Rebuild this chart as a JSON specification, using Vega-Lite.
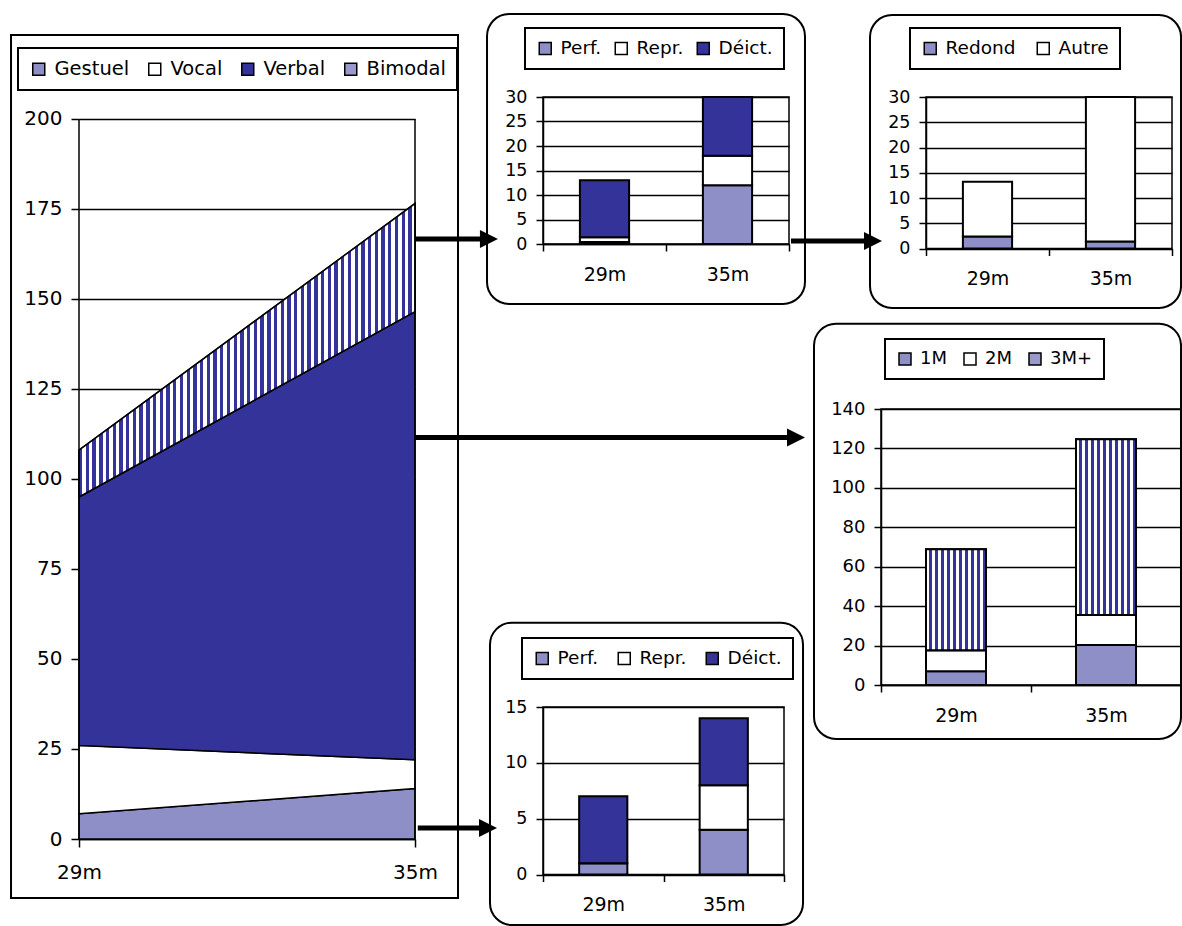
{
  "$schema": "https://vega.github.io/schema/vega-lite/v6.json",
  "background": "white",
  "padding": {"left": 10, "top": 12, "right": 0, "bottom": 0},
  "config": {
    "font": "DejaVu Sans",
    "view": {"stroke": "black", "strokeWidth": 1.5},
    "axis": {"labelFont": "DejaVu Sans", "labelColor": "black", "domainColor": "black", "domainWidth": 1.5, "tickColor": "black", "tickWidth": 1.5, "gridColor": "black", "gridWidth": 1.5, "gridOpacity": 1, "labelAngle": 0, "labelOverlap": false},
    "legend": {"labelFont": "DejaVu Sans", "labelColor": "black", "symbolType": "square", "symbolSize": 144, "symbolStrokeColor": "black", "symbolStrokeWidth": 1.5, "symbolOpacity": 1, "strokeColor": "black", "strokeWidth": 2, "fillColor": "white", "orient": "none", "direction": "horizontal", "labelOffset": 6}
  },
  "resolve": {"scale": {"fill": "independent"}, "legend": {"fill": "independent"}},
  "columns": 2,
  "align": "none",
  "spacing": -369,
  "concat": [
    {
      "resolve": {"scale": {"fill": "independent"}, "legend": {"fill": "independent"}},
      "columns": 2,
      "align": "none",
      "spacing": -693,
      "concat": [
        {
          "width": 336,
          "height": 742,
          "view": {"stroke": null},
          "data": {"values": [
            {"month": 29, "type": "Gestuel", "n": 7},
            {"month": 29, "type": "Vocal", "n": 19},
            {"month": 29, "type": "Verbal", "n": 69},
            {"month": 29, "type": "Bimodal", "n": 13},
            {"month": 35, "type": "Gestuel", "n": 14},
            {"month": 35, "type": "Vocal", "n": 8},
            {"month": 35, "type": "Verbal", "n": 124.5},
            {"month": 35, "type": "Bimodal", "n": 30}
          ]},
          "transform": [{"calculate": "indexof(['Gestuel', 'Vocal', 'Verbal', 'Bimodal'], datum.type)", "as": "k"}],
          "layer": [
            {
              "mark": {"type": "area", "stroke": "black", "strokeWidth": 1.5, "opacity": 1},
              "encoding": {
                "x": {"field": "month", "type": "quantitative", "scale": {"domain": [29, 35], "nice": false, "zero": false},
                      "axis": {"title": null, "values": [29, 35], "labelExpr": "datum.value + 'm'", "grid": false, "labelFlush": false, "labelFontSize": 20, "tickSize": 8, "labelPadding": 15}},
                "y": {"field": "n", "type": "quantitative", "stack": "zero", "scale": {"domain": [0, 206.111], "nice": false},
                      "axis": {"title": null, "values": [0, 25, 50, 75, 100, 125, 150, 175, 200], "grid": true, "domain": false, "labelFontSize": 20, "tickSize": 8, "labelPadding": 9}},
                "order": {"field": "k", "type": "quantitative"},
                "fill": {"field": "type", "type": "nominal", "sort": ["Gestuel", "Vocal", "Verbal", "Bimodal"],
                         "scale": {"domain": ["Gestuel", "Vocal", "Verbal", "Bimodal"], "range": ["#8f8fc8", "#ffffff", "#333399", "#9999cc"]},
                         "legend": {"title": null, "legendX": -61, "legendY": -49, "labelFontSize": 19.5, "columnPadding": 15, "padding": 11}}
              }
            },
            {
              "transform": [
                {"stack": "n", "groupby": ["month"], "sort": [{"field": "k", "order": "ascending"}], "as": ["y0", "y1"]},
                {"filter": "datum.type === 'Bimodal'"}
              ],
              "mark": {"type": "area", "stroke": "black", "strokeWidth": 1.5, "opacity": 1,
                       "fill": {"gradient": "linear", "x1": 0, "y1": 0, "x2": 1, "y2": 0, "stops": [
{"offset":0,"color":"#339"},
{"offset":0.01,"color":"#339"},{"offset":0.01,"color":"#fff"},{"offset":0.02,"color":"#fff"},{"offset":0.02,"color":"#339"},
{"offset":0.03,"color":"#339"},{"offset":0.03,"color":"#fff"},{"offset":0.04,"color":"#fff"},{"offset":0.04,"color":"#339"},
{"offset":0.05,"color":"#339"},{"offset":0.05,"color":"#fff"},{"offset":0.06,"color":"#fff"},{"offset":0.06,"color":"#339"},
{"offset":0.07,"color":"#339"},{"offset":0.07,"color":"#fff"},{"offset":0.08,"color":"#fff"},{"offset":0.08,"color":"#339"},
{"offset":0.09,"color":"#339"},{"offset":0.09,"color":"#fff"},{"offset":0.10,"color":"#fff"},{"offset":0.10,"color":"#339"},
{"offset":0.11,"color":"#339"},{"offset":0.11,"color":"#fff"},{"offset":0.12,"color":"#fff"},{"offset":0.12,"color":"#339"},
{"offset":0.13,"color":"#339"},{"offset":0.13,"color":"#fff"},{"offset":0.14,"color":"#fff"},{"offset":0.14,"color":"#339"},
{"offset":0.15,"color":"#339"},{"offset":0.15,"color":"#fff"},{"offset":0.16,"color":"#fff"},{"offset":0.16,"color":"#339"},
{"offset":0.17,"color":"#339"},{"offset":0.17,"color":"#fff"},{"offset":0.18,"color":"#fff"},{"offset":0.18,"color":"#339"},
{"offset":0.19,"color":"#339"},{"offset":0.19,"color":"#fff"},{"offset":0.20,"color":"#fff"},{"offset":0.20,"color":"#339"},
{"offset":0.21,"color":"#339"},{"offset":0.21,"color":"#fff"},{"offset":0.22,"color":"#fff"},{"offset":0.22,"color":"#339"},
{"offset":0.23,"color":"#339"},{"offset":0.23,"color":"#fff"},{"offset":0.24,"color":"#fff"},{"offset":0.24,"color":"#339"},
{"offset":0.25,"color":"#339"},{"offset":0.25,"color":"#fff"},{"offset":0.26,"color":"#fff"},{"offset":0.26,"color":"#339"},
{"offset":0.27,"color":"#339"},{"offset":0.27,"color":"#fff"},{"offset":0.28,"color":"#fff"},{"offset":0.28,"color":"#339"},
{"offset":0.29,"color":"#339"},{"offset":0.29,"color":"#fff"},{"offset":0.30,"color":"#fff"},{"offset":0.30,"color":"#339"},
{"offset":0.31,"color":"#339"},{"offset":0.31,"color":"#fff"},{"offset":0.32,"color":"#fff"},{"offset":0.32,"color":"#339"},
{"offset":0.33,"color":"#339"},{"offset":0.33,"color":"#fff"},{"offset":0.34,"color":"#fff"},{"offset":0.34,"color":"#339"},
{"offset":0.35,"color":"#339"},{"offset":0.35,"color":"#fff"},{"offset":0.36,"color":"#fff"},{"offset":0.36,"color":"#339"},
{"offset":0.37,"color":"#339"},{"offset":0.37,"color":"#fff"},{"offset":0.38,"color":"#fff"},{"offset":0.38,"color":"#339"},
{"offset":0.39,"color":"#339"},{"offset":0.39,"color":"#fff"},{"offset":0.40,"color":"#fff"},{"offset":0.40,"color":"#339"},
{"offset":0.41,"color":"#339"},{"offset":0.41,"color":"#fff"},{"offset":0.42,"color":"#fff"},{"offset":0.42,"color":"#339"},
{"offset":0.43,"color":"#339"},{"offset":0.43,"color":"#fff"},{"offset":0.44,"color":"#fff"},{"offset":0.44,"color":"#339"},
{"offset":0.45,"color":"#339"},{"offset":0.45,"color":"#fff"},{"offset":0.46,"color":"#fff"},{"offset":0.46,"color":"#339"},
{"offset":0.47,"color":"#339"},{"offset":0.47,"color":"#fff"},{"offset":0.48,"color":"#fff"},{"offset":0.48,"color":"#339"},
{"offset":0.49,"color":"#339"},{"offset":0.49,"color":"#fff"},{"offset":0.50,"color":"#fff"},{"offset":0.50,"color":"#339"},
{"offset":0.51,"color":"#339"},{"offset":0.51,"color":"#fff"},{"offset":0.52,"color":"#fff"},{"offset":0.52,"color":"#339"},
{"offset":0.53,"color":"#339"},{"offset":0.53,"color":"#fff"},{"offset":0.54,"color":"#fff"},{"offset":0.54,"color":"#339"},
{"offset":0.55,"color":"#339"},{"offset":0.55,"color":"#fff"},{"offset":0.56,"color":"#fff"},{"offset":0.56,"color":"#339"},
{"offset":0.57,"color":"#339"},{"offset":0.57,"color":"#fff"},{"offset":0.58,"color":"#fff"},{"offset":0.58,"color":"#339"},
{"offset":0.59,"color":"#339"},{"offset":0.59,"color":"#fff"},{"offset":0.60,"color":"#fff"},{"offset":0.60,"color":"#339"},
{"offset":0.61,"color":"#339"},{"offset":0.61,"color":"#fff"},{"offset":0.62,"color":"#fff"},{"offset":0.62,"color":"#339"},
{"offset":0.63,"color":"#339"},{"offset":0.63,"color":"#fff"},{"offset":0.64,"color":"#fff"},{"offset":0.64,"color":"#339"},
{"offset":0.65,"color":"#339"},{"offset":0.65,"color":"#fff"},{"offset":0.66,"color":"#fff"},{"offset":0.66,"color":"#339"},
{"offset":0.67,"color":"#339"},{"offset":0.67,"color":"#fff"},{"offset":0.68,"color":"#fff"},{"offset":0.68,"color":"#339"},
{"offset":0.69,"color":"#339"},{"offset":0.69,"color":"#fff"},{"offset":0.70,"color":"#fff"},{"offset":0.70,"color":"#339"},
{"offset":0.71,"color":"#339"},{"offset":0.71,"color":"#fff"},{"offset":0.72,"color":"#fff"},{"offset":0.72,"color":"#339"},
{"offset":0.73,"color":"#339"},{"offset":0.73,"color":"#fff"},{"offset":0.74,"color":"#fff"},{"offset":0.74,"color":"#339"},
{"offset":0.75,"color":"#339"},{"offset":0.75,"color":"#fff"},{"offset":0.76,"color":"#fff"},{"offset":0.76,"color":"#339"},
{"offset":0.77,"color":"#339"},{"offset":0.77,"color":"#fff"},{"offset":0.78,"color":"#fff"},{"offset":0.78,"color":"#339"},
{"offset":0.79,"color":"#339"},{"offset":0.79,"color":"#fff"},{"offset":0.80,"color":"#fff"},{"offset":0.80,"color":"#339"},
{"offset":0.81,"color":"#339"},{"offset":0.81,"color":"#fff"},{"offset":0.82,"color":"#fff"},{"offset":0.82,"color":"#339"},
{"offset":0.83,"color":"#339"},{"offset":0.83,"color":"#fff"},{"offset":0.84,"color":"#fff"},{"offset":0.84,"color":"#339"},
{"offset":0.85,"color":"#339"},{"offset":0.85,"color":"#fff"},{"offset":0.86,"color":"#fff"},{"offset":0.86,"color":"#339"},
{"offset":0.87,"color":"#339"},{"offset":0.87,"color":"#fff"},{"offset":0.88,"color":"#fff"},{"offset":0.88,"color":"#339"},
{"offset":0.89,"color":"#339"},{"offset":0.89,"color":"#fff"},{"offset":0.90,"color":"#fff"},{"offset":0.90,"color":"#339"},
{"offset":0.91,"color":"#339"},{"offset":0.91,"color":"#fff"},{"offset":0.92,"color":"#fff"},{"offset":0.92,"color":"#339"},
{"offset":0.93,"color":"#339"},{"offset":0.93,"color":"#fff"},{"offset":0.94,"color":"#fff"},{"offset":0.94,"color":"#339"},
{"offset":0.95,"color":"#339"},{"offset":0.95,"color":"#fff"},{"offset":0.96,"color":"#fff"},{"offset":0.96,"color":"#339"},
{"offset":0.97,"color":"#339"},{"offset":0.97,"color":"#fff"},{"offset":0.98,"color":"#fff"},{"offset":0.98,"color":"#339"},
{"offset":0.99,"color":"#339"},{"offset":0.99,"color":"#fff"},
{"offset":1,"color":"#fff"}
                       ]}},
              "encoding": {
                "x": {"field": "month", "type": "quantitative"},
                "y": {"field": "y1", "type": "quantitative"},
                "y2": {"field": "y0"}
              }
            },
            {"data": {"values": [{}]}, "mark": {"type": "rule", "strokeWidth": 1.5, "color": "black"},
             "encoding": {"x": {"datum": 29, "type": "quantitative"}, "y": {"datum": 0, "type": "quantitative"}, "y2": {"datum": 200}}},
            {"data": {"values": [{}]}, "mark": {"type": "rule", "strokeWidth": 1.5, "color": "black"},
             "encoding": {"x": {"datum": 35, "type": "quantitative"}, "y": {"datum": 0, "type": "quantitative"}, "y2": {"datum": 200}}},
            {"data": {"values": [{}]}, "mark": {"type": "rect", "filled": false, "stroke": "black", "strokeWidth": 2},
             "encoding": {"x": {"datum": 27.786, "type": "quantitative"}, "x2": {"datum": 35.768}, "y": {"datum": 223.33, "type": "quantitative"}, "y2": {"datum": -16.39}}},
            {"data": {"values": [{}]}, "mark": {"type": "rect", "filled": false, "stroke": "black", "strokeWidth": 2, "cornerRadius": 22},
             "encoding": {"x": {"datum": 36.286, "type": "quantitative"}, "x2": {"datum": 41.964}, "y": {"datum": 229.17, "type": "quantitative"}, "y2": {"datum": 148.61}}},
            {"data": {"values": [{}]}, "mark": {"type": "rect", "filled": false, "stroke": "black", "strokeWidth": 2, "cornerRadius": 22},
             "encoding": {"x": {"datum": 43.125, "type": "quantitative"}, "x2": {"datum": 48.679}, "y": {"datum": 228.89, "type": "quantitative"}, "y2": {"datum": 147.5}}},
            {"data": {"values": [{}]}, "mark": {"type": "rect", "filled": false, "stroke": "black", "strokeWidth": 2, "cornerRadius": 22},
             "encoding": {"x": {"datum": 42.125, "type": "quantitative"}, "x2": {"datum": 48.679}, "y": {"datum": 143.14, "type": "quantitative"}, "y2": {"datum": 27.78}}},
            {"data": {"values": [{}]}, "mark": {"type": "rect", "filled": false, "stroke": "black", "strokeWidth": 2, "cornerRadius": 22},
             "encoding": {"x": {"datum": 36.339, "type": "quantitative"}, "x2": {"datum": 41.929}, "y": {"datum": 60.08, "type": "quantitative"}, "y2": {"datum": -23.89}}},
            {"data": {"values": [{}]}, "mark": {"type": "rule", "strokeWidth": 5, "color": "black"},
             "encoding": {"x": {"datum": 35, "type": "quantitative"}, "x2": {"datum": 36.32}, "y": {"datum": 166.67, "type": "quantitative"}}},
            {"data": {"values": [{}]}, "mark": {"type": "rule", "strokeWidth": 5, "color": "black"},
             "encoding": {"x": {"datum": 35, "type": "quantitative"}, "x2": {"datum": 41.8}, "y": {"datum": 111.53, "type": "quantitative"}}},
            {"data": {"values": [{}]}, "mark": {"type": "rule", "strokeWidth": 5, "color": "black"},
             "encoding": {"x": {"datum": 35.05, "type": "quantitative"}, "x2": {"datum": 36.3}, "y": {"datum": 3.06, "type": "quantitative"}}},
            {"data": {"values": [{}]}, "mark": {"type": "rule", "strokeWidth": 5, "color": "black"},
             "encoding": {"x": {"datum": 41.714, "type": "quantitative"}, "x2": {"datum": 43.179}, "y": {"datum": 166.11, "type": "quantitative"}}},
            {"data": {"values": [{}]}, "mark": {"type": "point", "shape": "M-1,-1L1,0L-1,1Z", "size": 324, "filled": true, "color": "black", "opacity": 1},
             "encoding": {"x": {"datum": 36.32, "type": "quantitative"}, "y": {"datum": 166.67, "type": "quantitative"}}},
            {"data": {"values": [{}]}, "mark": {"type": "point", "shape": "M-1,-1L1,0L-1,1Z", "size": 324, "filled": true, "color": "black", "opacity": 1},
             "encoding": {"x": {"datum": 41.804, "type": "quantitative"}, "y": {"datum": 111.53, "type": "quantitative"}}},
            {"data": {"values": [{}]}, "mark": {"type": "point", "shape": "M-1,-1L1,0L-1,1Z", "size": 324, "filled": true, "color": "black", "opacity": 1},
             "encoding": {"x": {"datum": 36.304, "type": "quantitative"}, "y": {"datum": 3.06, "type": "quantitative"}}},
            {"data": {"values": [{}]}, "mark": {"type": "point", "shape": "M-1,-1L1,0L-1,1Z", "size": 324, "filled": true, "color": "black", "opacity": 1},
             "encoding": {"x": {"datum": 43.179, "type": "quantitative"}, "y": {"datum": 166.11, "type": "quantitative"}}}
          ]
        },
        {
          "resolve": {"scale": {"fill": "independent"}, "legend": {"fill": "independent"}},
          "spacing": 341,
          "vconcat": [
            {
              "width": 246,
              "height": 147,
              "data": {"values": [
                {"age": "29m", "type": "Perf.", "n": 0.4},
                {"age": "29m", "type": "Repr.", "n": 1},
                {"age": "29m", "type": "Déict.", "n": 11.6},
                {"age": "35m", "type": "Perf.", "n": 12},
                {"age": "35m", "type": "Repr.", "n": 6},
                {"age": "35m", "type": "Déict.", "n": 12}
              ]},
              "transform": [{"calculate": "indexof(['Perf.', 'Repr.', 'Déict.'], datum.type)", "as": "k"}],
              "mark": {"type": "bar", "stroke": "black", "strokeWidth": 2, "width": {"band": 0.4}, "opacity": 1},
              "encoding": {
                "x": {"field": "age", "type": "nominal", "sort": ["29m", "35m"], "scale": {"paddingInner": 0, "paddingOuter": 0},
                      "axis": {"title": null, "tickBand": "extent", "tickSize": 7, "labelFontSize": 19, "labelPadding": 14, "minExtent": 50}},
                "y": {"field": "n", "type": "quantitative", "scale": {"domain": [0, 30], "nice": false},
                      "axis": {"title": null, "values": [0, 5, 10, 15, 20, 25, 30], "grid": true, "tickSize": 7, "labelFontSize": 17.5, "labelPadding": 9, "minExtent": 52}},
                "order": {"field": "k", "type": "quantitative"},
                "fill": {"field": "type", "type": "nominal", "sort": ["Perf.", "Repr.", "Déict."],
                         "scale": {"domain": ["Perf.", "Repr.", "Déict."], "range": ["#8f8fc8", "#ffffff", "#333399"]},
                         "legend": {"title": null, "legendX": -18, "legendY": -69, "labelFontSize": 18.5, "columnPadding": 10, "padding": 11}}
              }
            },
            {
              "width": 241,
              "height": 167.5,
              "data": {"values": [
                {"age": "29m", "type": "Perf.", "n": 1},
                {"age": "29m", "type": "Repr.", "n": 0},
                {"age": "29m", "type": "Déict.", "n": 6},
                {"age": "35m", "type": "Perf.", "n": 4},
                {"age": "35m", "type": "Repr.", "n": 4},
                {"age": "35m", "type": "Déict.", "n": 6}
              ]},
              "transform": [{"calculate": "indexof(['Perf.', 'Repr.', 'Déict.'], datum.type)", "as": "k"}],
              "mark": {"type": "bar", "stroke": "black", "strokeWidth": 2, "width": {"band": 0.4}, "opacity": 1},
              "encoding": {
                "x": {"field": "age", "type": "nominal", "sort": ["29m", "35m"], "scale": {"paddingInner": 0, "paddingOuter": 0},
                      "axis": {"title": null, "tickBand": "extent", "tickSize": 7, "labelFontSize": 19, "labelPadding": 14, "minExtent": 50}},
                "y": {"field": "n", "type": "quantitative", "scale": {"domain": [0, 15], "nice": false},
                      "axis": {"title": null, "values": [0, 5, 10, 15], "grid": true, "tickSize": 7, "labelFontSize": 17.5, "labelPadding": 9, "minExtent": 52}},
                "order": {"field": "k", "type": "quantitative"},
                "fill": {"field": "type", "type": "nominal", "sort": ["Perf.", "Repr.", "Déict."],
                         "scale": {"domain": ["Perf.", "Repr.", "Déict."], "range": ["#8f8fc8", "#ffffff", "#333399"]},
                         "legend": {"title": null, "legendX": -21, "legendY": -69, "labelFontSize": 18.5, "columnPadding": 16, "padding": 11}}
              }
            }
          ]
        }
      ]
    },
    {
      "resolve": {"scale": {"fill": "independent"}, "legend": {"fill": "independent"}},
      "spacing": 37,
      "vconcat": [
        {
          "resolve": {"scale": {"fill": "independent"}, "legend": {"fill": "independent"}},
          "spacing": 0,
          "hconcat": [
            {
              "width": 4,
              "height": 4,
              "view": {"stroke": null},
              "data": {"values": [{}]},
              "mark": {"type": "point", "opacity": 0, "size": 1},
              "encoding": {}
            },
            {
              "width": 246,
              "height": 151.5,
              "data": {"values": [
                {"age": "29m", "type": "Redond", "n": 2.4},
                {"age": "29m", "type": "Autre", "n": 10.8},
                {"age": "35m", "type": "Redond", "n": 1.4},
                {"age": "35m", "type": "Autre", "n": 28.6}
              ]},
              "transform": [{"calculate": "indexof(['Redond', 'Autre'], datum.type)", "as": "k"}],
              "mark": {"type": "bar", "stroke": "black", "strokeWidth": 2, "width": {"band": 0.4}, "opacity": 1},
              "encoding": {
                "x": {"field": "age", "type": "nominal", "sort": ["29m", "35m"], "scale": {"paddingInner": 0, "paddingOuter": 0},
                      "axis": {"title": null, "tickBand": "extent", "tickSize": 7, "labelFontSize": 19, "labelPadding": 14, "minExtent": 50}},
                "y": {"field": "n", "type": "quantitative", "scale": {"domain": [0, 30], "nice": false},
                      "axis": {"title": null, "values": [0, 5, 10, 15, 20, 25, 30], "grid": true, "tickSize": 7, "labelFontSize": 17.5, "labelPadding": 9, "minExtent": 40}},
                "order": {"field": "k", "type": "quantitative"},
                "fill": {"field": "type", "type": "nominal", "sort": ["Redond", "Autre"],
                         "scale": {"domain": ["Redond", "Autre"], "range": ["#8f8fc8", "#ffffff"]},
                         "legend": {"title": null, "legendX": -16, "legendY": -69, "labelFontSize": 18.5, "columnPadding": 18, "padding": 11}}
              }
            }
          ]
        },
        {
          "width": 300,
          "height": 276,
          "data": {"values": [
            {"age": "29m", "type": "1M", "n": 7},
            {"age": "29m", "type": "2M", "n": 10.6},
            {"age": "29m", "type": "3M+", "n": 51.3},
            {"age": "35m", "type": "1M", "n": 20.3},
            {"age": "35m", "type": "2M", "n": 15.2},
            {"age": "35m", "type": "3M+", "n": 89.1}
          ]},
          "transform": [{"calculate": "indexof(['1M', '2M', '3M+'], datum.type)", "as": "k"}],
          "layer": [
            {
              "mark": {"type": "bar", "stroke": "black", "strokeWidth": 2, "width": {"band": 0.4}, "opacity": 1},
              "encoding": {
                "x": {"field": "age", "type": "nominal", "sort": ["29m", "35m"], "scale": {"paddingInner": 0, "paddingOuter": 0},
                      "axis": {"title": null, "tickBand": "extent", "tickSize": 7, "labelFontSize": 19, "labelPadding": 14}},
                "y": {"field": "n", "type": "quantitative", "scale": {"domain": [0, 140], "nice": false},
                      "axis": {"title": null, "values": [0, 20, 40, 60, 80, 100, 120, 140], "grid": true, "tickSize": 7, "labelFontSize": 18, "labelPadding": 9, "minExtent": 66}},
                "order": {"field": "k", "type": "quantitative"},
                "fill": {"field": "type", "type": "nominal", "sort": ["1M", "2M", "3M+"],
                         "scale": {"domain": ["1M", "2M", "3M+"], "range": ["#8f8fc8", "#ffffff", "#9999cc"]},
                         "legend": {"title": null, "legendX": 4, "legendY": -70, "labelFontSize": 18, "columnPadding": 14, "padding": 11}}
              }
            },
            {
              "transform": [
                {"stack": "n", "groupby": ["age"], "sort": [{"field": "k", "order": "ascending"}], "as": ["y0", "y1"]},
                {"filter": "datum.type === '3M+'"}
              ],
              "mark": {"type": "bar", "stroke": "black", "strokeWidth": 2, "width": {"band": 0.4}, "opacity": 1,
                       "fill": {"gradient": "linear", "x1": 0, "y1": 0, "x2": 1, "y2": 0, "stops": [
{"offset":0,"color":"#fff"},
{"offset":0.05,"color":"#fff"},{"offset":0.05,"color":"#339"},{"offset":0.1,"color":"#339"},{"offset":0.1,"color":"#fff"},
{"offset":0.15,"color":"#fff"},{"offset":0.15,"color":"#339"},{"offset":0.2,"color":"#339"},{"offset":0.2,"color":"#fff"},
{"offset":0.25,"color":"#fff"},{"offset":0.25,"color":"#339"},{"offset":0.3,"color":"#339"},{"offset":0.3,"color":"#fff"},
{"offset":0.35,"color":"#fff"},{"offset":0.35,"color":"#339"},{"offset":0.4,"color":"#339"},{"offset":0.4,"color":"#fff"},
{"offset":0.45,"color":"#fff"},{"offset":0.45,"color":"#339"},{"offset":0.5,"color":"#339"},{"offset":0.5,"color":"#fff"},
{"offset":0.55,"color":"#fff"},{"offset":0.55,"color":"#339"},{"offset":0.6,"color":"#339"},{"offset":0.6,"color":"#fff"},
{"offset":0.65,"color":"#fff"},{"offset":0.65,"color":"#339"},{"offset":0.7,"color":"#339"},{"offset":0.7,"color":"#fff"},
{"offset":0.75,"color":"#fff"},{"offset":0.75,"color":"#339"},{"offset":0.8,"color":"#339"},{"offset":0.8,"color":"#fff"},
{"offset":0.85,"color":"#fff"},{"offset":0.85,"color":"#339"},{"offset":0.9,"color":"#339"},{"offset":0.9,"color":"#fff"},
{"offset":0.95,"color":"#fff"},{"offset":0.95,"color":"#339"},{"offset":1,"color":"#339"}
                       ]}},
              "encoding": {
                "x": {"field": "age", "type": "nominal", "sort": ["29m", "35m"]},
                "y": {"field": "y1", "type": "quantitative",
                      "axis": {"title": null, "values": [0, 20, 40, 60, 80, 100, 120, 140], "grid": true, "tickSize": 7, "labelFontSize": 18, "labelPadding": 9, "minExtent": 66}},
                "y2": {"field": "y0"}
              }
            }
          ]
        }
      ]
    }
  ]
}
